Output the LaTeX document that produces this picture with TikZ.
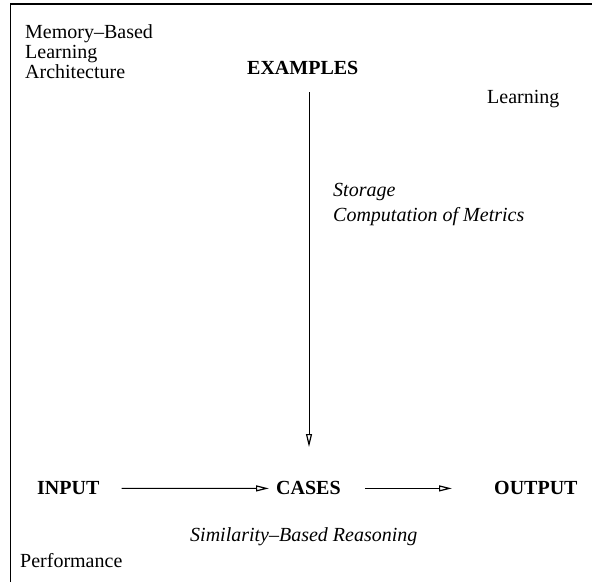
\documentclass[tikz,border=0pt]{standalone}
\usepackage{fontspec}
\setmainfont{Liberation Serif}
\usetikzlibrary{arrows.meta}
\tikzset{
  lbl/.style={inner sep=0pt, anchor=base west, font=\fontsize{20}{20}\selectfont},
  blbl/.style={lbl, font=\fontsize{20}{20}\selectfont\bfseries},
  ilbl/.style={lbl, font=\fontsize{20}{20}\selectfont\itshape},
  arr/.style={line width=1pt, -{Triangle[open, length=13pt, width=6pt, line width=1.2pt]}},
  frame/.style={line width=1.5pt}
}
\begin{document}
\begin{tikzpicture}[x=1pt,y=-1pt]
\useasboundingbox (0,0) rectangle (592,582);
\draw[frame] (10.5,582) -- (10.5,4) -- (592,4);
\node[lbl, anchor=north west, align=left] (mbla) at (25,24.5) {Memory–Based\\Learning\\Architecture};
\node[blbl] (examples) at (247,74) {EXAMPLES};
\node[lbl] (learning) at (487,103) {Learning};
\node[ilbl] (storage) at (333,196) {Storage};
\node[ilbl] (metrics) at (333,221) {Computation of Metrics};
\node[blbl] (input) at (37,494) {INPUT};
\node[blbl] (cases) at (276,494) {CASES};
\node[blbl] (output) at (494,494) {OUTPUT};
\node[ilbl] (simil) at (190,541) {Similarity–Based Reasoning};
\node[lbl] (perf) at (20,567) {Performance};
\coordinate (vtop) at (309,92);
\coordinate (vbot) at (309,447);
\draw[arr] (vtop) -- (vbot);
\draw[arr] ([xshift=22pt,yshift=6pt]input.south east) -- ([xshift=-7pt,yshift=6pt]cases.south west);
\draw[arr] ([xshift=24pt,yshift=6pt]cases.south east) -- ([xshift=-42pt,yshift=6pt]output.south west);
\end{tikzpicture}
\end{document}
